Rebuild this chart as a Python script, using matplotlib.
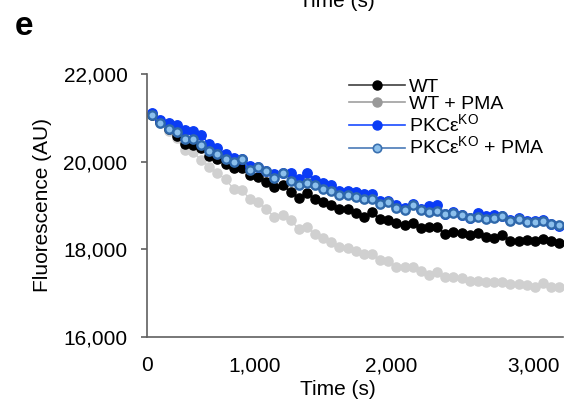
import matplotlib
matplotlib.use("Agg")
import matplotlib.pyplot as plt
from matplotlib.lines import Line2D

plt.rcParams['font.family'] = ['Liberation Sans', 'DejaVu Sans']
plt.rcParams['mathtext.fontset'] = 'custom'
plt.rcParams['mathtext.rm'] = 'Liberation Sans'

# readings, one every sampling step (category axis like the original Excel chart)
wt = [21064, 20905, 20745, 20585, 20400, 20380, 20315, 20135, 20050, 19940,
      19845, 19845, 19695, 19640, 19540, 19410, 19465, 19305, 19160, 19275,
      19145, 19075, 19010, 18910, 18910, 18830, 18740, 18840, 18680, 18665,
      18590, 18550, 18590, 18475, 18510, 18510, 18340, 18400, 18360, 18325,
      18360, 18285, 18260, 18325, 18195, 18195, 18210, 18185, 18230, 18195,
      18135]
wt_pma = [21064, 20880, 20700, 20530, 20265, 20225, 20035, 19883, 19732, 19595,
          19375, 19350, 19140, 19085, 18910, 18740, 18780, 18665, 18455, 18510,
          18340, 18255, 18170, 18040, 18035, 17965, 17890, 17880, 17750, 17730,
          17600, 17585, 17585, 17500, 17400, 17485, 17355, 17355, 17335, 17280,
          17270, 17255, 17250, 17250, 17200, 17195, 17170, 17130, 17225, 17130,
          17130]
ko = [21100, 20950, 20880, 20835, 20715, 20700, 20605, 20395, 20320, 20165,
      20090, 20060, 19905, 19885, 19790, 19710, 19745, 19730, 19600, 19740,
      19580, 19515, 19470, 19320, 19320, 19295, 19250, 19265, 19100, 19095,
      19000, 18940, 19040, 18910, 18980, 19000, 18805, 18840, 18780, 18720,
      18825, 18750, 18775, 18765, 18660, 18705, 18640, 18640, 18660, 18580,
      18520]
ko_pma = [21064, 20880, 20740, 20680, 20510, 20510, 20375, 20240, 20165, 20060,
          19985, 20060, 19805, 19870, 19785, 19620, 19730, 19545, 19455, 19520,
          19460, 19365, 19335, 19235, 19235, 19190, 19140, 19150, 19040, 19070,
          18935, 18885, 19000, 18895, 18850, 18880, 18800, 18835, 18775, 18720,
          18735, 18680, 18715, 18750, 18650, 18690, 18625, 18625, 18650, 18565,
          18560]

labels = ['WT', 'WT + PMA', 'PKCε$^{\\mathrm{KO}}$', 'PKCε$^{\\mathrm{KO}}$ + PMA']
xtick_labels = ['0', '1,000', '2,000', '3,000']
xtick_index = [-0.65, 12.6, 29.4, 46.8]   # where the labels sit on the category axis
ytick_vals = [16000, 18000, 20000, 22000]

x = list(range(len(wt)))

fig = plt.figure(figsize=(5.81, 4.01), dpi=100)
ax = fig.add_axes([147/581, 1-336.7/401, 416.3/581, 262.7/401])

ax.plot(x, wt_pma, '-o', color='#d0d0d0', lw=1, ms=6.6, mec='#d0d0d0', mfc='#d0d0d0')
ax.plot(x, wt, '-o', color='#000000', lw=1, ms=6.6, mec='#000000', mfc='#000000')
ax.plot(x, ko, '-o', color='#0a3cf5', lw=1, ms=6.8, mec='#0a3cf5', mfc='#0a3cf5')
ax.plot(x, ko_pma, '-o', color='#3a70b0', lw=1, ms=6.0, mec='#2f68aa', mfc='#8cc0ec', mew=1.7)

ax.set_xlim(-0.65, 50.5)
ax.set_ylim(16000, 22000)
ax.set_yticks(ytick_vals)
ax.set_yticklabels([f'{v:,}' for v in ytick_vals])
ax.set_xticks(xtick_index)
ax.set_xticklabels(xtick_labels)
ax.set_xticks([-0.65], minor=True)

for s in ['top', 'right']:
    ax.spines[s].set_visible(False)
for s in ['left', 'bottom']:
    ax.spines[s].set_color('#606060')
    ax.spines[s].set_linewidth(1.2)

ax.tick_params(axis='y', length=4, width=1.2, color='#606060', pad=10, labelsize=15)
ax.tick_params(axis='x', which='major', length=0, pad=14, labelsize=15)
ax.tick_params(axis='x', which='minor', length=4, width=1.2, color='#606060')

ax.set_ylabel('Fluorescence (AU)', fontsize=15)
ax.yaxis.set_label_coords(-0.228, 0.5)
ax.set_xlabel('Time (s)', fontsize=15)
ax.xaxis.set_label_coords(0.4576, -0.165)

handles = [
    Line2D([], [], color='#404040', lw=1.2, marker='o', ms=6.5, mfc='#000000', mec='#000000'),
    Line2D([], [], color='#a0a0a0', lw=1.2, marker='o', ms=6.5, mfc='#999999', mec='#999999'),
    Line2D([], [], color='#1a4cff', lw=1.2, marker='o', ms=6.5, mfc='#0a3cf5', mec='#0a3cf5'),
    Line2D([], [], color='#4a7ab8', lw=1.2, marker='o', ms=6.0, mfc='#8cc0ec', mec='#3a70b0', mew=1.2),
]
fig.legend(handles, labels, loc='upper left', bbox_to_anchor=(349/581, 1-78/401),
           frameon=False, fontsize=14, handlelength=2.9, handletextpad=0.2,
           labelspacing=0.0, borderpad=0, borderaxespad=0)

fig.text(15/581, 1-35/401, 'e', fontsize=24, fontweight='bold', va='baseline', ha='left')
fig.text(337/581, 1-7/401, 'Time (s)', fontsize=15, va='baseline', ha='center')

fig.savefig('out.png', dpi=100)
